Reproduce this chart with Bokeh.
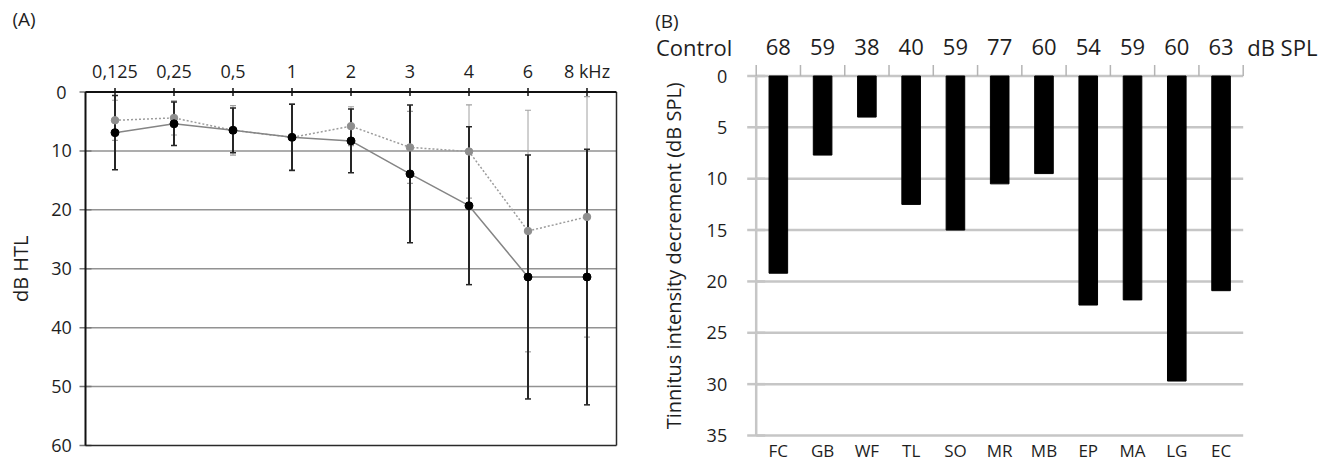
import math
from bokeh.plotting import figure
from bokeh.models import ColumnDataSource, Range1d
from bokeh.core.properties import value
from bokeh.embed import file_html
from bokeh.resources import INLINE

# ---------------- data ----------------
freq_labels = ["0,125", "0,25", "0,5", "1", "2", "3", "4", "6", "8 kHz"]
black_mean = [6.9, 5.4, 6.5, 7.7, 8.3, 13.9, 19.3, 31.4, 31.4]
black_sd = [6.3, 3.7, 3.8, 5.6, 5.4, 11.7, 13.4, 20.7, 21.7]
gray_mean = [4.8, 4.4, 6.5, 7.7, 5.8, 9.4, 10.1, 23.6, 21.2]
gray_sd = [3.4, 2.9, 4.2, 5.7, 3.3, 6.1, 7.9, 20.5, 20.4]
htl_ticks = [0, 10, 20, 30, 40, 50, 60]

subjects = ["FC", "GB", "WF", "TL", "SO", "MR", "MB", "EP", "MA", "LG", "EC"]
control_spl = [68, 59, 38, 40, 59, 77, 60, 54, 59, 60, 63]
decrement = [19.2, 7.7, 4.0, 12.5, 15.0, 10.5, 9.5, 22.3, 21.8, 29.7, 20.9]
dec_ticks = [0, 5, 10, 15, 20, 25, 30, 35]

FONT = value("Open Sans")
TXT = "#1e1e1e"

# ---------------- canvas / panel frames (pixels inside the canvas) ----------------
W, H = 1332, 461
nA = len(freq_labels)
A_MIN, A_MAX = htl_ticks[0], htl_ticks[-1]
A_L, A_R, A_T, A_B = 85.0, 616.0, 91.5, 445.0
uxA = (A_R - A_L) / nA
uyA = (A_B - A_T) / (A_MAX - A_MIN)

nB = len(subjects)
B_MIN, B_MAX = dec_ticks[0], dec_ticks[-1]
B_L, B_R, B_T, B_B = 755.7, 1242.7, 75.5, 435.0
uxB = (B_R - B_L) / nB
uyB = (B_B - B_T) / (B_MAX - B_MIN)

xA0, xA1 = -0.5, nA - 0.5
p = figure(width=W, height=H,
           x_range=Range1d(xA0 - A_L / uxA, xA1 + (W - A_R) / uxA),
           y_range=Range1d(A_MAX + (H - A_B) / uyA, A_MIN - A_T / uyA),
           x_axis_location=None, y_axis_location=None,
           output_backend="svg", toolbar_location=None,
           min_border=0, min_border_left=0, min_border_right=0,
           min_border_top=0, min_border_bottom=0)
p.extra_x_ranges = {"bx": Range1d(0 - B_L / uxB, nB + (W - B_R) / uxB)}
p.extra_y_ranges = {"by": Range1d(B_MAX + (H - B_B) / uyB, B_MIN - B_T / uyB)}
p.outline_line_color = None
p.xgrid.visible = False
p.ygrid.visible = False
p.background_fill_color = "white"
p.border_fill_color = "white"

# =============== panel A ===============
xs = list(range(nA))
inner = [t for t in htl_ticks if A_MIN < t < A_MAX]
p.segment(x0=[xA0] * len(inner), x1=[xA1] * len(inner), y0=inner, y1=inner,
          line_color="#929292", line_width=1.5)
# left tick marks
p.scatter(x=[xA0] * len(htl_ticks), y=htl_ticks, marker="dash", size=12,
          line_color="#777777", line_width=1.5)
# frame
p.segment(x0=[xA1, xA0], x1=[xA1, xA1], y0=[A_MIN, A_MAX], y1=[A_MAX, A_MAX],
          line_color="#2a2a2a", line_width=1.5)
p.segment(x0=[xA0, xA0], x1=[xA0, xA1], y0=[A_MIN, A_MIN], y1=[A_MAX, A_MIN],
          line_color="#111111", line_width=2)
# top tick marks
p.scatter(x=xs, y=[A_MIN] * nA, marker="dash", angle=math.pi / 2, size=8,
          line_color="#111111", line_width=1.5)

srcA = ColumnDataSource(dict(
    x=xs,
    bm=black_mean, blo=[m - s for m, s in zip(black_mean, black_sd)],
    bhi=[m + s for m, s in zip(black_mean, black_sd)],
    gm=gray_mean, glo=[m - s for m, s in zip(gray_mean, gray_sd)],
    ghi=[m + s for m, s in zip(gray_mean, gray_sd)],
))
# error bars (gray series first, black on top)
p.segment(x0="x", x1="x", y0="glo", y1="ghi", source=srcA, line_color="#a0a0a0", line_width=1)
p.scatter(x="x", y="glo", source=srcA, marker="dash", size=6, line_color="#a0a0a0", line_width=1.2)
p.scatter(x="x", y="ghi", source=srcA, marker="dash", size=6, line_color="#a0a0a0", line_width=1.2)
p.segment(x0="x", x1="x", y0="blo", y1="bhi", source=srcA, line_color="#262626", line_width=2)
p.scatter(x="x", y="blo", source=srcA, marker="dash", size=6, line_color="#262626", line_width=1.5)
p.scatter(x="x", y="bhi", source=srcA, marker="dash", size=6, line_color="#262626", line_width=1.5)
# series lines and points
p.line(x="x", y="gm", source=srcA, line_color="#9c9c9c", line_width=1.5, line_dash="2 2")
p.line(x="x", y="bm", source=srcA, line_color="#858585", line_width=1.5)
p.scatter(x="x", y="gm", source=srcA, size=7.5, fill_color="#8e8e8e", line_color="#8e8e8e")
p.scatter(x="x", y="bm", source=srcA, size=8, fill_color="#000000", line_color="#000000")

# texts
p.text(x=xs, y=[A_MIN] * nA, text=freq_labels, text_font=FONT, text_font_size="18px",
       text_color=TXT, text_align="center", text_baseline="middle", y_offset=-21)
p.text(x=[xA0] * len(htl_ticks), y=htl_ticks, text=[str(t) for t in htl_ticks],
       text_font=FONT, text_font_size="18px", text_color=TXT,
       text_align="center", text_baseline="middle", x_offset=-24)
p.text(x=[xA0], y=[(A_MIN + A_MAX) / 2], text=["dB HTL"], angle=math.pi / 2,
       text_font=FONT, text_font_size="20px", text_color=TXT,
       text_align="center", text_baseline="middle", x_offset=-65)
p.text(x=[xA0], y=[A_MIN], text=["(A)"], text_font=FONT, text_font_size="19px",
       text_color=TXT, text_align="left", text_baseline="middle",
       x_offset=-73, y_offset=-73)

# =============== panel B ===============
RB = dict(x_range_name="bx", y_range_name="by")
centers = [i + 0.5 for i in range(nB)]
bounds = list(range(nB + 1))
GRID_B = "#c6c6c6"

p.segment(x0=[0] * len(dec_ticks), x1=[nB] * len(dec_ticks), y0=dec_ticks, y1=dec_ticks,
          line_color=GRID_B, line_width=2.5, **RB)
p.scatter(x=[0] * len(dec_ticks), y=dec_ticks, marker="dash", size=18,
          line_color=GRID_B, line_width=2.5, **RB)
tick_up = 11 / uyB
p.segment(x0=bounds, x1=bounds, y0=[B_MIN] * len(bounds), y1=[B_MIN - tick_up] * len(bounds),
          line_color="#b4b4b4", line_width=1.5, **RB)
p.segment(x0=[0], x1=[0], y0=[B_MIN], y1=[B_MAX], line_color=GRID_B, line_width=2.5, **RB)

srcB = ColumnDataSource(dict(x=centers, top=decrement, base=[B_MIN] * nB))
p.vbar(x="x", top="top", bottom="base", width=0.42, source=srcB,
       fill_color="#000000", line_color="#000000", **RB)

p.text(x=[0] * len(dec_ticks), y=dec_ticks, text=[str(t) for t in dec_ticks],
       text_font=FONT, text_font_size="18px", text_color=TXT,
       text_align="right", text_baseline="middle", x_offset=-29, **RB)
p.text(x=[0], y=[(B_MIN + B_MAX) / 2], text=["Tinnitus intensity decrement (dB SPL)"],
       angle=math.pi / 2, text_font=FONT, text_font_size="20px", text_color=TXT,
       text_align="center", text_baseline="middle", x_offset=-83, **RB)
p.text(x=centers, y=[B_MAX] * nB, text=subjects, text_font=FONT, text_font_size="17px",
       text_color=TXT, text_align="center", text_baseline="middle", y_offset=15, **RB)
p.text(x=centers, y=[B_MIN] * nB, text=[str(v) for v in control_spl], text_font=FONT,
       text_font_size="22px", text_color=TXT, text_align="center",
       text_baseline="middle", y_offset=-29, **RB)
p.text(x=[0], y=[B_MIN], text=["Control"], text_font=FONT, text_font_size="22px",
       text_color=TXT, text_align="right", text_baseline="middle",
       x_offset=-24, y_offset=-29, **RB)
p.text(x=[nB], y=[B_MIN], text=["dB SPL"], text_font=FONT, text_font_size="22px",
       text_color=TXT, text_align="left", text_baseline="middle",
       x_offset=4, y_offset=-29, **RB)
p.text(x=[0], y=[B_MIN], text=["(B)"], text_font=FONT, text_font_size="19px",
       text_color=TXT, text_align="left", text_baseline="middle",
       x_offset=-101, y_offset=-55, **RB)

open("out.html", "w").write(file_html(p, INLINE))
